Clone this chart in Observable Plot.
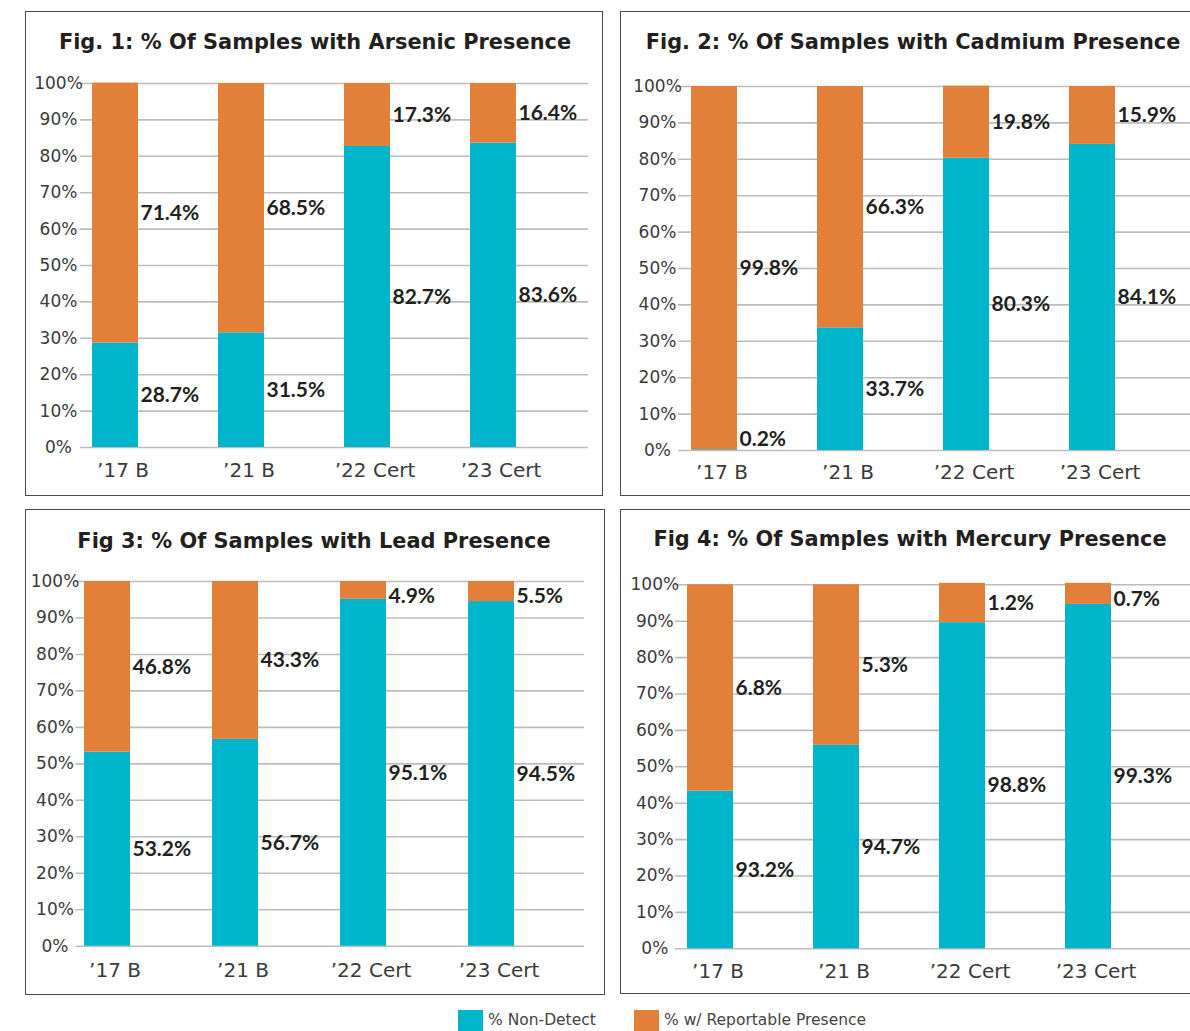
<!DOCTYPE html>
<html><head><meta charset="utf-8">
<script src="https://cdn.jsdelivr.net/npm/d3@7"></script>
<script src="https://cdn.jsdelivr.net/npm/@observablehq/plot@0.6"></script>
<style>
html,body{margin:0;padding:0;background:#fff;}
body{width:1190px;height:1031px;position:relative;overflow:hidden;}
.panel{position:absolute;border:1.5px solid #4a4a4a;box-sizing:border-box;}
.title{position:absolute;transform:translate(-50%,-50%);white-space:nowrap;font-family:"DejaVu Sans",sans-serif;font-weight:700;font-size:20.9px;color:#231f20;}
.chart{position:absolute;}
.chart svg{overflow:visible;}
.chart g[aria-label="y-axis tick label"] text{font-size:17px;fill:#3a3a3a;}
.chart g[aria-label="x-axis tick label"] text{font-size:20px;fill:#3a3a3a;}
.lg{position:absolute;font-family:"DejaVu Sans",sans-serif;font-size:15.5px;color:#444;white-space:nowrap;}
.sw{position:absolute;}
</style></head><body>
<script>
// ---------- data ----------
const categories = ["\u201917 B", "\u201921 B", "\u201922 Cert", "\u201923 Cert"];
const series = ["% Non-Detect", "% w/ Reportable Presence"];
const seriesColors = ["#00B4CC", "#E2803A"];
const yTicks = [0, 10, 20, 30, 40, 50, 60, 70, 80, 90, 100];
const titles = [
  "Fig. 1: % Of Samples with Arsenic Presence",
  "Fig. 2: % Of Samples with Cadmium Presence",
  "Fig 3: % Of Samples with Lead Presence",
  "Fig 4: % Of Samples with Mercury Presence"
];
const arsenicNonDetect = [28.7, 31.5, 82.7, 83.6];
const arsenicReportable = [71.4, 68.5, 17.3, 16.4];
const cadmiumNonDetect = [0.2, 33.7, 80.3, 84.1];
const cadmiumReportable = [99.8, 66.3, 19.8, 15.9];
const leadNonDetect = [53.2, 56.7, 95.1, 94.5];
const leadReportable = [46.8, 43.3, 4.9, 5.5];
// Fig 4: printed label values
const mercuryNonDetect = [93.2, 94.7, 98.8, 99.3];
const mercuryReportable = [6.8, 5.3, 1.2, 0.7];
// Fig 4: bar heights as drawn in the picture (they differ from the printed labels)
const mercuryNonDetectBar = [43.3, 55.9, 89.6, 94.6];
const mercuryReportableBar = [56.7, 44.1, 10.8, 5.8];

// ---------- layout ----------
const panels = [
  {title: titles[0], nd: arsenicNonDetect, rp: arsenicReportable, ndBar: arsenicNonDetect, rpBar: arsenicReportable,
   box: [25, 11, 578, 485], titleXY: [315, 42.3],
   svg: {left: 25, top: 11, w: 578, h: 485, mt: 72, mb: 49, ml: 55, mr: 15, xr: [65, 492], tp: 22, xp: 15}},
  {title: titles[1], nd: cadmiumNonDetect, rp: cadmiumReportable, ndBar: cadmiumNonDetect, rpBar: cadmiumReportable,
   box: [620, 11, 585, 485], titleXY: [913, 41.7],
   svg: {left: 620, top: 11, w: 570, h: 485, mt: 75, mb: 46, ml: 58, mr: 0, xr: [71, 495.7], tp: 21, xp: 14.5}},
  {title: titles[2], nd: leadNonDetect, rp: leadReportable, ndBar: leadNonDetect, rpBar: leadReportable,
   box: [25, 509, 580, 486], titleXY: [314, 541],
   svg: {left: 25, top: 509, w: 579, h: 486, mt: 72, mb: 49.3, ml: 50.5, mr: 20, xr: [59.2, 489.3], tp: 21, xp: 17}},
  {title: titles[3], nd: mercuryNonDetect, rp: mercuryReportable, ndBar: mercuryNonDetectBar, rpBar: mercuryReportableBar,
   box: [620, 509, 585, 485], titleXY: [910, 539.3],
   svg: {left: 620, top: 509, w: 570, h: 486, mt: 75.3, mb: 46.7, ml: 55, mr: 0, xr: [65.2, 492], tp: 20.7, xp: 14.5}}
];

const BW = 46;
for (const p of panels) {
  const box = document.createElement("div");
  box.className = "panel";
  Object.assign(box.style, {left: p.box[0] + "px", top: p.box[1] + "px", width: p.box[2] + "px", height: p.box[3] + "px"});
  document.body.appendChild(box);

  const rows = [];
  categories.forEach((c, i) => {
    const a = p.ndBar[i], b = p.rpBar[i];
    rows.push({cat: c, series: series[0], y1: 0, y2: a, label: p.nd[i].toFixed(1) + "%"});
    rows.push({cat: c, series: series[1], y1: a, y2: a + b, label: p.rp[i].toFixed(1) + "%"});
  });
  rows.forEach(r => r.ly = Math.min(96, Math.max(3, (r.y1 + r.y2) / 2)));

  const s = p.svg;
  const step = (s.xr[1] - s.xr[0] - BW) / 3;
  const chart = Plot.plot({
    width: s.w, height: s.h,
    marginTop: s.mt, marginBottom: s.mb, marginLeft: s.ml, marginRight: s.mr,
    style: {fontFamily: "'DejaVu Sans', sans-serif", background: "transparent", overflow: "visible"},
    x: {domain: categories, range: s.xr, paddingInner: 1 - BW / step, paddingOuter: 0, axis: null},
    y: {domain: [0, 100], axis: null},
    color: {domain: series, range: seriesColors},
    marks: [
      Plot.gridY(yTicks, {stroke: "#bcbcbc", strokeOpacity: 1, strokeWidth: 1.6}),
      Plot.barY(rows, {x: "cat", y1: "y1", y2: "y2", fill: "series"}),
      Plot.text(rows, {x: "cat", y: "ly", text: "label", textAnchor: "start", dx: BW / 2 + 2,
        fontFamily: "Lato, sans-serif", fontWeight: "bold", fontSize: 21, fill: "#231f20"}),
      Plot.axisY(yTicks, {tickSize: 0, tickPadding: s.tp, textAnchor: "middle", tickFormat: d => d + "%", fontSize: 17, label: null}),
      Plot.axisX(categories, {tickSize: 0, tickPadding: s.xp, dx: 7.5, fontSize: 20, label: null})
    ]
  });
  const holder = document.createElement("div");
  holder.className = "chart";
  Object.assign(holder.style, {left: s.left + "px", top: s.top + "px"});
  holder.appendChild(chart);
  document.body.appendChild(holder);

  const t = document.createElement("div");
  t.className = "title";
  t.textContent = p.title;
  Object.assign(t.style, {left: p.titleXY[0] + "px", top: p.titleXY[1] + "px"});
  document.body.appendChild(t);
}

// ---------- legend ----------
const legendPos = [[458, 488], [634, 664]];
series.forEach((name, i) => {
  const sw = document.createElement("div");
  sw.className = "sw";
  Object.assign(sw.style, {left: legendPos[i][0] + "px", top: "1010px", width: "25px", height: "22px", background: seriesColors[i]});
  document.body.appendChild(sw);
  const lb = document.createElement("div");
  lb.className = "lg";
  lb.textContent = name;
  Object.assign(lb.style, {left: legendPos[i][1] + "px", top: "1011px"});
  document.body.appendChild(lb);
});
</script>
</body></html>
